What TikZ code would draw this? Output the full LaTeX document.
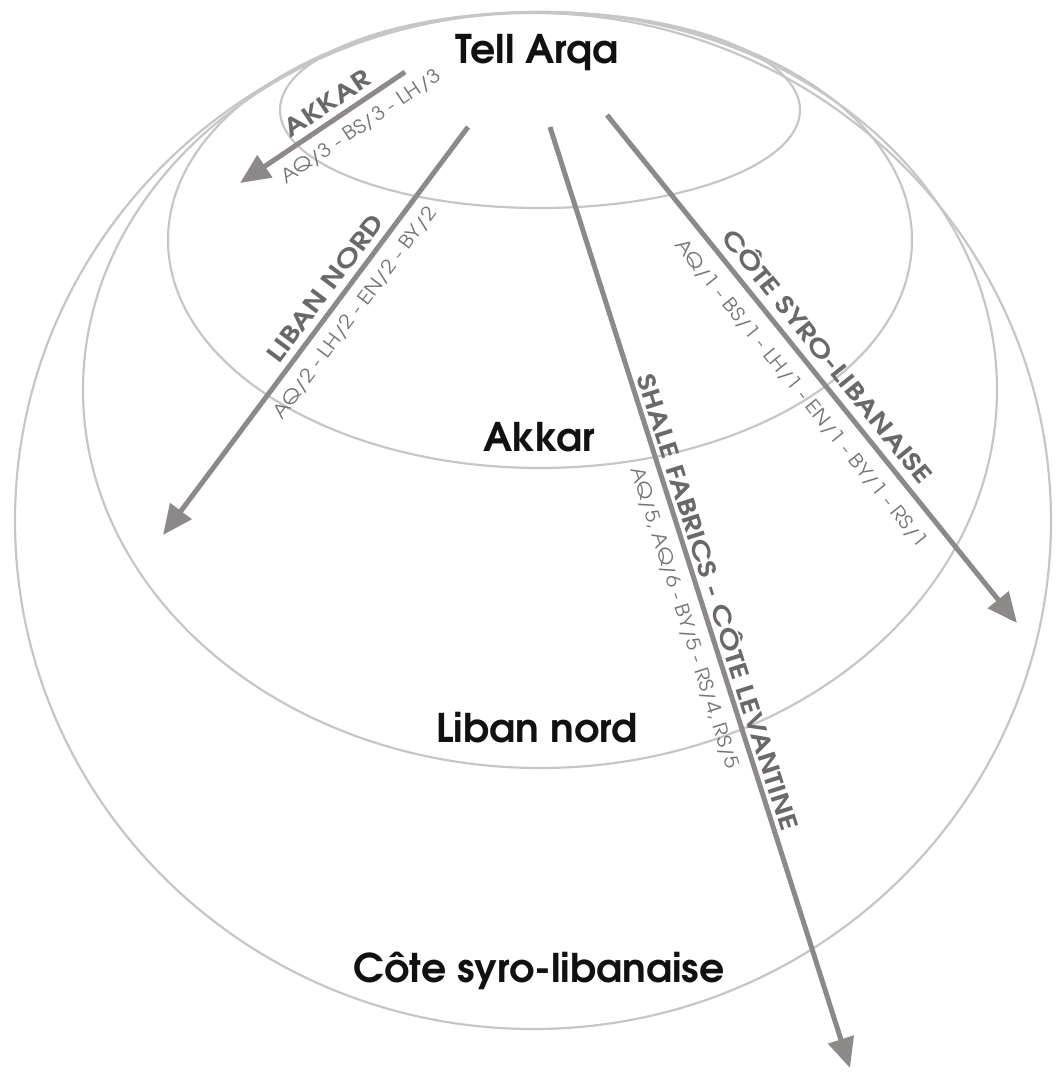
\documentclass[tikz,border=0pt]{standalone}
\usepackage{fontspec}
\setmainfont{texgyreadventor}[Extension=.otf, UprightFont=*-regular, BoldFont=*-bold, ItalicFont=*-italic, BoldItalicFont=*-bolditalic]
\newfontfamily\labfont{texgyreadventor}[Extension=.otf, UprightFont=*-bold, FakeStretch=1.25]
\newfontfamily\codefont{texgyreadventor}[Extension=.otf, UprightFont=*-regular, FakeStretch=1.13]
\usetikzlibrary{arrows.meta}
\definecolor{ringc}{HTML}{C6C6C6}
\definecolor{arrc}{HTML}{8E8989}
\definecolor{labc}{HTML}{6B6868}
\definecolor{codec}{HTML}{777474}
\definecolor{bigc}{HTML}{111111}
\tikzset{
  ring/.style={draw=ringc, line width=2.2pt},
  arr/.style={draw=arrc, line width=5pt, -{Triangle[length=30pt,width=26pt]}},
  big/.style={text=bigc, font=\bfseries\fontsize{39.5}{44}\selectfont, inner sep=0pt, anchor=base},
  lab/.style={text=labc, font=\labfont\fontsize{24}{28}\selectfont, inner sep=0pt, sloped},
  code/.style={text=codec, font=\codefont\fontsize{19}{23}\selectfont, inner sep=0pt, sloped}
}
\begin{document}
\begin{tikzpicture}[x=1pt,y=-1pt]
\useasboundingbox (0,0) rectangle (1056,1072);
% rings
\draw[ring] (533,521) ellipse [x radius=518, y radius=508];
\draw[ring] (540,390) ellipse [x radius=457, y radius=378];
\draw[ring] (540,240) ellipse [x radius=372, y radius=228];
\draw[ring] (540,110) ellipse [x radius=260, y radius=98];
% region names
\node[big] (tell) at (537,63) {Tell Arqa};
\node[big] (akkar) at (539,451) {Akkar};
\node[big] (liban) at (537,742) {Liban nord};
\node[big] (cote) at (539,982) {Côte syro-libanaise};
% arrow ends
\coordinate (a1s) at (405,72);  \coordinate (a1e) at (240,183);
\coordinate (a2s) at (468,127); \coordinate (a2e) at (163,535);
\coordinate (a3s) at (550,127); \coordinate (a3e) at (850,1068);
\coordinate (a4s) at (607,115); \coordinate (a4e) at (1017,623);
% arrows with labels
\draw[arr] (a1s) -- node[lab, pos=0.414, yshift=17.5pt] (l1) {AKKAR}
  node[code, pos=0.338, yshift=-21pt] (c1) {AQ/3 - BS/3 - LH/3} (a1e);
\draw[arr] (a2s) -- node[lab, pos=0.421, yshift=18pt] (l2) {LIBAN NORD}
  node[code, pos=0.425, yshift=-21pt] (c2) {AQ/2 - LH/2 - EN/2 - BY/2} (a2e);
\draw[arr] (a3s) -- node[lab, pos=0.510, yshift=17.7pt] (l3) {SHALE FABRICS - CÔTE LEVANTINE}
  node[code, pos=0.515, yshift=-21.4pt] (c3) {AQ/5, AQ/6 - BY/5 - RS/4, RS/5} (a3e);
\draw[arr] (a4s) -- node[lab, pos=0.500, yshift=22pt] (l4) {CÔTE SYRO-LIBANAISE}
  node[code, pos=0.519, yshift=-24pt] (c4) {AQ/1 - BS/1 - LH/1 - EN/1 - BY/1 - RS/1} (a4e);
\end{tikzpicture}
\end{document}
